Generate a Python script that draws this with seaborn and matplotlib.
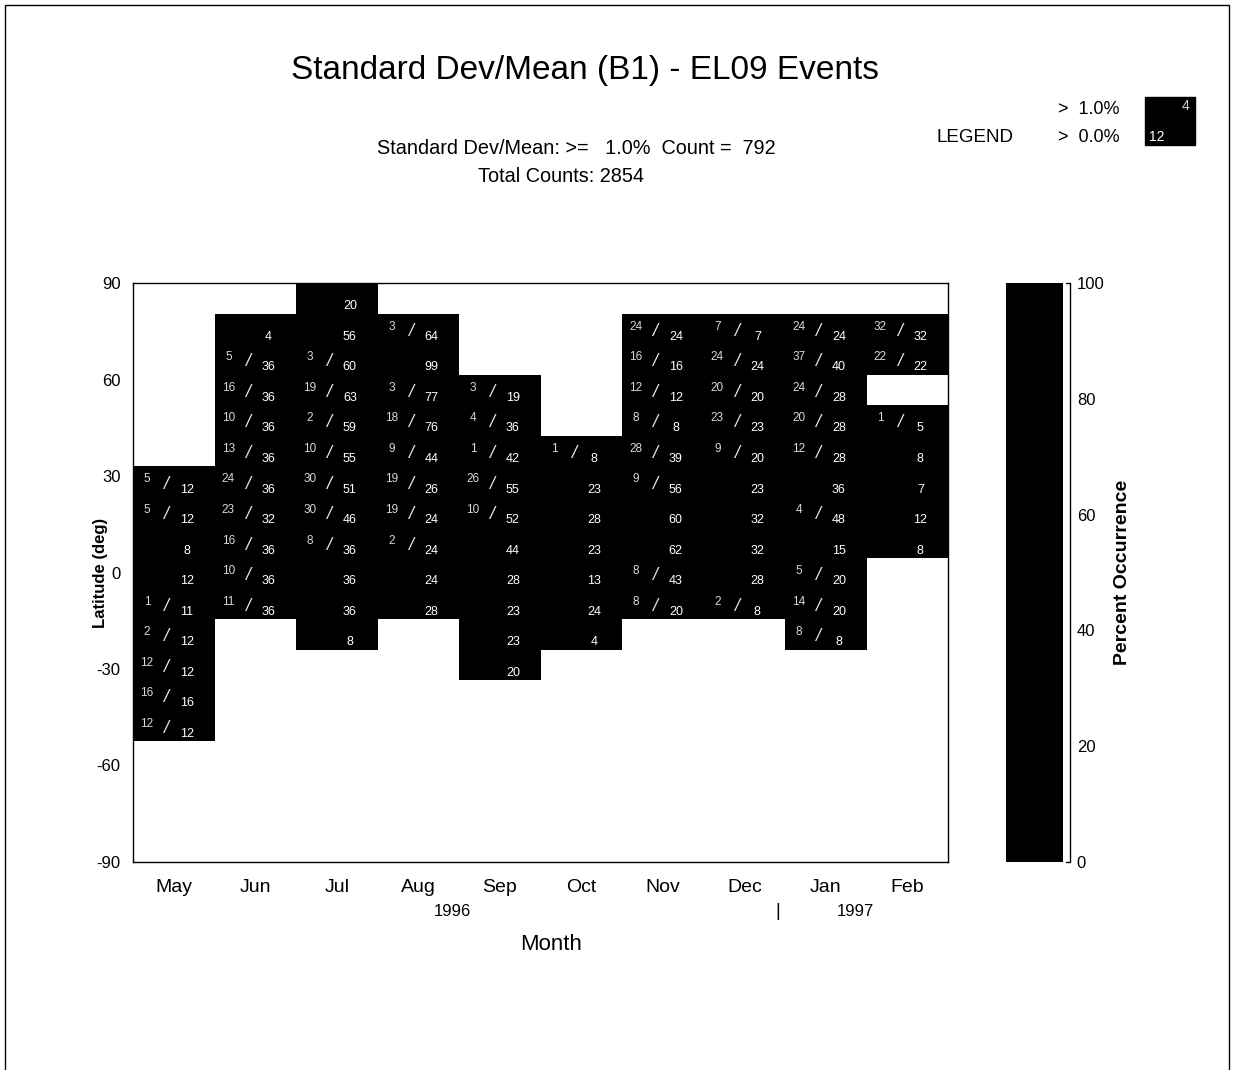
import numpy as np
import pandas as pd
import seaborn as sns
import matplotlib.pyplot as plt
from matplotlib.colors import ListedColormap
from matplotlib.patches import Rectangle

sns.set_style("white")
plt.rcParams['font.family'] = ['Liberation Sans', 'DejaVu Sans']
plt.rcParams['text.color'] = 'black'
plt.rcParams['axes.labelcolor'] = 'black'
plt.rcParams['xtick.color'] = 'black'
plt.rcParams['ytick.color'] = 'black'

# Months and latitude bins (bin k covers 90-9.5k .. 90-9.5(k+1))
months = ["May", "Jun", "Jul", "Aug", "Sep", "Oct", "Nov", "Dec", "Jan", "Feb"]
bin_size = 9.5
n_bins = 16

# index of first (northernmost) bin with data in each month
top_bin = [6, 1, 0, 1, 3, 5, 1, 1, 1, 1]

# counts >= 1.0% (0 = not shown, None = no data)
above = [
    [5, 5, 0, 0, 1, 2, 12, 16, 12],
    [0, 5, 16, 10, 13, 24, 23, 16, 10, 11],
    [0, 0, 3, 19, 2, 10, 30, 30, 8, 0, 0, 0],
    [3, 0, 3, 18, 9, 19, 19, 2, 0, 0],
    [3, 4, 1, 26, 10, 0, 0, 0, 0, 0],
    [1, 0, 0, 0, 0, 0, 0],
    [24, 16, 12, 8, 28, 9, 0, 0, 8, 8],
    [7, 24, 20, 23, 9, 0, 0, 0, 0, 2],
    [24, 37, 24, 20, 12, 0, 4, 0, 5, 14, 8],
    [32, 22, None, 1, 0, 0, 0, 0],
]
# total counts per cell
total = [
    [12, 12, 8, 12, 11, 12, 12, 16, 12],
    [4, 36, 36, 36, 36, 36, 32, 36, 36, 36],
    [20, 56, 60, 63, 59, 55, 51, 46, 36, 36, 36, 8],
    [64, 99, 77, 76, 44, 26, 24, 24, 24, 28],
    [19, 36, 42, 55, 52, 44, 28, 23, 23, 20],
    [8, 23, 28, 23, 13, 24, 4],
    [24, 16, 12, 8, 39, 56, 60, 62, 43, 20],
    [7, 24, 20, 23, 20, 23, 32, 32, 28, 8],
    [24, 40, 28, 28, 28, 36, 48, 15, 20, 20, 8],
    [32, 22, None, 5, 8, 7, 12, 8],
]

lat_ticks = [90, 60, 30, 0, -30, -60, -90]
cbar_ticks = [0, 20, 40, 60, 80, 100]

# percent occurrence grid
pct = np.full((n_bins, len(months)), np.nan)
for j in range(len(months)):
    for r, (a, b) in enumerate(zip(above[j], total[j])):
        if b is None:
            continue
        pct[top_bin[j] + r, j] = 100.0 * a / b
grid = pd.DataFrame(pct, columns=months)

fig = plt.figure(figsize=(12.34, 10.70), dpi=100)
ax = fig.add_axes([0.1078, 0.1944, 0.6605, 0.5411])
cax = fig.add_axes([0.8152, 0.1944, 0.0462, 0.5411])

sns.heatmap(grid, ax=ax, cbar_ax=cax, cmap=ListedColormap(['black']),
            vmin=0, vmax=100, xticklabels=months, yticklabels=False,
            cbar_kws={'ticks': cbar_ticks})

ax.set_ylim((90 - (-90)) / bin_size, 0)
ax.set_xlim(0, len(months))
ax.set_yticks([(90 - v) / bin_size for v in lat_ticks])
ax.set_yticklabels([str(v) for v in lat_ticks], fontsize=12)
ax.set_xticklabels(months, fontsize=14, rotation=0)
ax.tick_params(axis='y', length=0, pad=9)
ax.tick_params(axis='x', length=0, pad=12)
for s in ax.spines.values():
    s.set_visible(True)
    s.set_linewidth(1)
    s.set_color('black')

# cell labels
for j in range(len(months)):
    for r, (a, b) in enumerate(zip(above[j], total[j])):
        if b is None:
            continue
        k = top_bin[j] + r
        if a:
            ax.text(j + 0.17, k + 0.43, str(a), color='#d8d8d8', fontsize=8.5,
                    ha='center', va='center')
            ax.text(j + 0.40, k + 0.58, '/', color='#e8e8e8', fontsize=13,
                    ha='center', va='center', style='italic')
        ax.text(j + 0.66, k + 0.76, str(b), color='white', fontsize=9,
                ha='center', va='center')

ax.set_ylabel("Latitude (deg)", fontsize=12, fontweight='bold')
ax.yaxis.label.set_va('center')
ax.yaxis.set_label_coords(-0.040, 0.5)
ax.set_xlabel("")

# year labels and month axis title
fig.text(452 / 1234, 1 - 912 / 1070, "1996", fontsize=12, ha='center', va='center')
fig.text(855 / 1234, 1 - 912 / 1070, "1997", fontsize=12, ha='center', va='center')
fig.text(778 / 1234, 1 - 912 / 1070, "|", fontsize=13, ha='center', va='center')
fig.text(551 / 1234, 1 - 944 / 1070, "Month", fontsize=16, ha='center', va='center')

# colorbar styling
cbar = ax.collections[0].colorbar
cbar.outline.set_visible(False)
cax.tick_params(length=0, labelsize=12, pad=10, right=True)
cax.yaxis.set_ticks_position('right')
cax.plot([1.06, 1.13, 1.13, 1.06], [100, 100, 0, 0], color='black', lw=1,
         clip_on=False)
cax.set_ylabel("Percent Occurrence", fontsize=14, fontweight='bold', labelpad=7)

# titles
fig.text(585 / 1234, 1 - 70 / 1070, "Standard Dev/Mean (B1) - EL09 Events",
         fontsize=24, ha='center', va='center')
fig.text(576 / 1234, 1 - 148 / 1070,
         "Standard Dev/Mean: >=   1.0%  Count =  792", fontsize=14.3,
         ha='center', va='center')
fig.text(561 / 1234, 1 - 176 / 1070, "Total Counts: 2854", fontsize=14.3,
         ha='center', va='center')

# legend block
fig.text(975 / 1234, 1 - 138 / 1070, "LEGEND", fontsize=13.5, ha='center', va='center')
fig.text(1058 / 1234, 1 - 110 / 1070, ">  1.0%", fontsize=13, ha='left', va='center')
fig.text(1058 / 1234, 1 - 138 / 1070, ">  0.0%", fontsize=13, ha='left', va='center')
fig.patches.append(Rectangle((1145 / 1234, 1 - 145 / 1070), 50 / 1234, 48 / 1070,
                             transform=fig.transFigure, facecolor='black',
                             edgecolor='black'))
fig.text(1186 / 1234, 1 - 106 / 1070, "4", color='#d0d0d0', fontsize=10,
         ha='center', va='center')
fig.text(1157 / 1234, 1 - 137 / 1070, "12", color='white', fontsize=10,
         ha='center', va='center')

# outer frame
fig.patches.append(Rectangle((5 / 1234, -0.01), 1224 / 1234, 1.0 - 5 / 1070 + 0.01,
                             transform=fig.transFigure, fill=False,
                             edgecolor='black', linewidth=1))

fig.savefig("out.png", dpi=100)
